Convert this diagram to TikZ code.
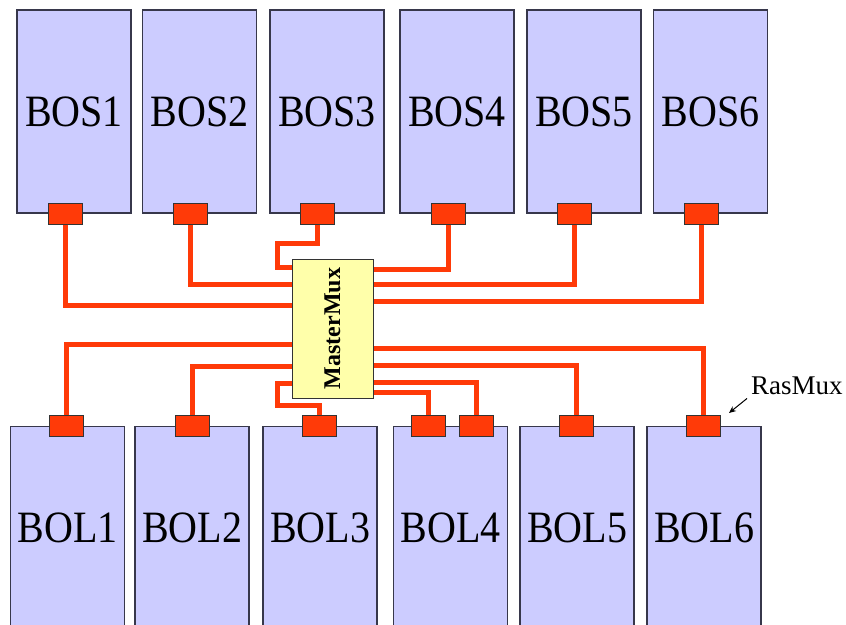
\documentclass[tikz,border=0pt]{standalone}
\usepackage{fontspec}
\setmainfont{Liberation Serif}
\usepackage{tikz}
\usetikzlibrary{arrows.meta,positioning,calc}
\newcommand{\tallname}[1]{\scalebox{1}[1.12]{#1}}
\definecolor{detfill}{RGB}{204,204,255}
\definecolor{detline}{RGB}{55,55,75}
\definecolor{muxfill}{RGB}{255,255,170}
\definecolor{cablered}{RGB}{255,58,8}
\tikzset{
  detbox/.style={
    draw=detline,fill=detfill,line width=1.2pt,minimum width=114pt,
    minimum height=203pt,inner sep=0pt,font=\fontsize{40}{40}\selectfont
  },
  padbox/.style={
    draw=black!80,fill=cablered,line width=1pt,minimum width=34pt,
    minimum height=21pt,inner sep=0pt
  },
  muxbox/.style={
    draw=black!80,fill=muxfill,line width=1pt,minimum width=81pt,
    minimum height=139pt,inner sep=0pt
  },
  cable/.style={draw=cablered,line width=5pt},
  pointer/.style={-{Stealth[length=7pt,width=6pt]},line width=1pt}
}

\begin{document}
\begin{tikzpicture}[x=1pt,y=-1pt]
  \useasboundingbox (0,0) rectangle (846,624);
  \clip (0,0) rectangle (846,624);
  % detector boxes
  \foreach \i/\x in {1/74,2/199.5,3/327,4/457,5/584,6/710.5}
    \node[detbox] (bos\i) at (\x,111.5) {\tallname{BOS\i}};
  \foreach \i/\x in {1/67.5,2/192,3/320,4/450.5,5/577,6/704}
    \node[detbox] (bol\i) at (\x,528) {\tallname{BOL\i}};
  % RasMux pads
  \foreach \i/\x in {1/65,2/190,3/317,4/448,5/574.5,6/701.5}
    \node[padbox] (ps\i) at (\x,213.5) {};
  \foreach \i/\x in {1/66,2/192,3/319.5,4a/428,4b/476.5,5/576,6/703.5}
    \node[padbox] (pl\i) at (\x,425.5) {};
  \node[muxbox] (mm) at (332.5,328.5)
    {\rotatebox{90}{\fontsize{24}{24}\selectfont\bfseries MasterMux}};
  % cables, top half
  \draw[cable] (ps1.south) |- (mm.west |- 0,305);
  \draw[cable] (ps2.south) |- (mm.west |- 0,284);
  \draw[cable] (ps3.south) |- (277,243) |- (mm.west |- 0,267);
  \draw[cable] (ps4.south) |- (mm.east |- 0,269);
  \draw[cable] (ps5.south) |- (mm.east |- 0,284);
  \draw[cable] (ps6.south) |- (mm.east |- 0,301);
  % cables, bottom half
  \draw[cable] (pl1.north) |- (mm.west |- 0,344);
  \draw[cable] (pl2.north) |- (mm.west |- 0,366);
  \draw[cable] (pl3.north) |- (277,405) |- (mm.west |- 0,383);
  \draw[cable] (pl4a.north) |- (mm.east |- 0,392);
  \draw[cable] (pl4b.north) |- (mm.east |- 0,382);
  \draw[cable] (pl5.north) |- (mm.east |- 0,365);
  \draw[cable] (pl6.north) |- (mm.east |- 0,348);
  % label
  \node[anchor=base west,inner sep=0pt,font=\fontsize{27}{27}\selectfont]
    (raslbl) at (751,394) {RasMux};
  \coordinate (rastip) at (729,413);
  \draw[pointer] ([xshift=-4pt,yshift=-4pt]raslbl.south west) -- (rastip);
\end{tikzpicture}
\end{document}
